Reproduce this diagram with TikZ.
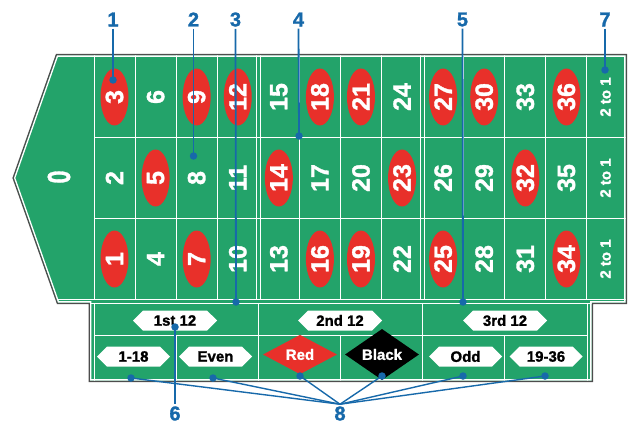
\documentclass[tikz,border=0pt]{standalone}
\usepackage{fontspec}
\setmainfont{Liberation Sans}
\newfontfamily\heavyfont{Liberation Sans Bold}[FakeBold=1.3]
\usetikzlibrary{shapes.geometric,shapes.symbols}
\definecolor{felt}{HTML}{23A36A}
\definecolor{rouge}{HTML}{E8302A}
\definecolor{callblue}{HTML}{1769AA}
\definecolor{rim}{HTML}{4D4D4D}
\begin{document}
\begin{tikzpicture}[x=1pt,y=-1pt,
  nump/.style={rotate=90, text=white, font=\fontsize{25}{25}\selectfont\heavyfont, inner sep=0pt},
  numr/.style={nump, ellipse, fill=rouge, minimum width=57pt, minimum height=28pt},
  twotoone/.style={rotate=90, text=white, font=\fontsize{15}{15}\selectfont\heavyfont, inner sep=0pt},
  gridl/.style={white, line width=1pt},
  hexl/.style={signal, signal to=west and east, fill=white, inner sep=0pt, minimum height=20pt,
     text=black, font=\fontsize{15}{15}\selectfont\heavyfont},
  diam/.style={diamond, inner sep=0pt, minimum width=74pt, minimum height=38pt, text=white,
     font=\fontsize{15}{15}\selectfont\heavyfont},
  cnum/.style={text=callblue, font=\fontsize{20}{20}\selectfont\heavyfont, inner sep=2pt},
  cdot/.style={circle, fill=callblue, inner sep=0pt, minimum size=7.5pt},
  cline/.style={callblue, line width=1.8pt},
  cline8/.style={callblue, line width=1.4pt}
]
\useasboundingbox (0,0) rectangle (631,425);

% table body
\draw[rim, line width=3pt, line join=miter] (57,55.5) -- (625.5,55.5) -- (625.5,302.5) -- (591.5,302.5) -- (591.5,380.5) -- (90,380.5) -- (90,302.5) -- (58,302.5) -- (14,178) -- cycle;
\fill[felt] (57,55.5) -- (625.5,55.5) -- (625.5,302.5) -- (591.5,302.5) -- (591.5,380.5) -- (90,380.5) -- (90,302.5) -- (58,302.5) -- (14,178) -- cycle;
\begin{scope}
  \clip (57,55.5) -- (625.5,55.5) -- (625.5,302.5) -- (591.5,302.5) -- (591.5,380.5) -- (90,380.5) -- (90,302.5) -- (58,302.5) -- (14,178) -- cycle;
  \draw[white, line width=2.6pt] (57,55.5) -- (625.5,55.5) -- (625.5,302.5) -- (591.5,302.5) -- (591.5,380.5) -- (90,380.5) -- (90,302.5) -- (58,302.5) -- (14,178) -- cycle;
  % number grid
  \foreach \k in {0,1,2,3,5,6,7,9,10,11,12}
    \draw[gridl] ({94+41.08*\k},50) -- ({94+41.08*\k},300);
  \foreach \k in {4,8}{
    \draw[gridl] ({92+41.08*\k},50) -- ({92+41.08*\k},300);
    \draw[gridl] ({96+41.08*\k},50) -- ({96+41.08*\k},300);
  }
  \draw[gridl] (94,137.5) -- (630,137.5);
  \draw[gridl] (94,218.5) -- (630,218.5);
  \draw[gridl] (50,299) -- (630,299);
  \draw[gridl] (85,303) -- (600,303);
  % outside bets
  \draw[gridl] (94,303) -- (94,385);
  \draw[gridl] (587,303) -- (587,385);
  \draw[gridl] (94,335) -- (587,335);
  \draw[gridl] (258.3,303) -- (258.3,385);
  \draw[gridl] (422.6,303) -- (422.6,385);
  \foreach \k in {2,6,10}
    \draw[gridl] ({94+41.08*\k},335) -- ({94+41.08*\k},385);
\end{scope}

% zero
\node[nump] (z0) at (59,177) {\fontsize{32}{32}\selectfont\scalebox{0.73}[1]{0}};

% numbers
\foreach \n/\c/\y/\s in {
  3/0/97/numr, 6/1/97/nump, 9/2/97/numr, 12/3/97/numr, 15/4/97/nump, 18/5/97/numr,
  21/6/97/numr, 24/7/97/nump, 27/8/97/numr, 30/9/97/numr, 33/10/97/nump, 36/11/97/numr,
  2/0/178/nump, 5/1/178/numr, 8/2/178/nump, 11/3/178/nump, 14/4/178/numr, 17/5/178/nump,
  20/6/178/nump, 23/7/178/numr, 26/8/178/nump, 29/9/178/nump, 32/10/178/numr, 35/11/178/nump,
  1/0/259/numr, 4/1/259/nump, 7/2/259/numr, 10/3/259/nump, 13/4/259/nump, 16/5/259/numr,
  19/6/259/numr, 22/7/259/nump, 25/8/259/numr, 28/9/259/nump, 31/10/259/nump, 34/11/259/numr}
  \node[\s] (n\n) at ({114.5+41.08*\c},\y) {\n};

% column bets
\node[twotoone] (col3) at (605.5,97) {2 to 1};
\node[twotoone] (col2) at (605.5,178) {2 to 1};
\node[twotoone] (col1) at (605.5,259) {2 to 1};

% dozens
\node[hexl, minimum width=84pt] (d1st) at (175,320.5) {1st 12};
\node[hexl, minimum width=84pt] (d2nd) at (340,320.5) {2nd 12};
\node[hexl, minimum width=84pt] (d3rd) at (505,320.5) {3rd 12};

% even-money bets
\node[hexl, minimum width=73pt] (low) at (133.5,356.5) {1-18};
\node[hexl, minimum width=73pt] (even) at (215.5,356.5) {Even};
\node[diam, fill=rouge] (red) at (300,354.5) {Red};
\node[diam, fill=black] (black) at (382,354.5) {Black};
\node[hexl, minimum width=73pt] (odd) at (465.5,356.5) {Odd};
\node[hexl, minimum width=73pt] (high) at (546,356.5) {19-36};

% callouts
\node[cnum] (l1) at (113,19.5) {1};
\node[cnum] (l2) at (193.5,19.5) {2};
\node[cnum] (l3) at (235.5,19.5) {3};
\node[cnum] (l4) at (298.5,19.5) {4};
\node[cnum] (l5) at (462.5,19.5) {5};
\node[cnum] (l7) at (605,19.5) {7};
\node[cnum] (l6) at (175,413.5) {6};
\node[cnum] (l8) at (340,413.5) {8};

\node[cdot] (p1) at (113,80) {};
\node[cdot] (p2) at (193.5,156) {};
\node[cdot] (p3) at (236,302) {};
\node[cdot] (p4) at (299,136) {};
\node[cdot] (p5) at (463,302) {};
\node[cdot] (p7) at (605,70) {};
\node[cdot] (p6) at (175,327) {};
\node[cdot] (q1) at (131,378) {};
\node[cdot] (q2) at (213,378) {};
\node[cdot] (q3) at (300,376) {};
\node[cdot] (q4) at (382,376) {};
\node[cdot] (q5) at (463,376) {};
\node[cdot] (q6) at (545,376) {};

\draw[cline] (l1.south) -- (p1.center);
\draw[cline] (l2.south) -- (p2.center);
\draw[cline] (l3.south) -- (p3.center);
\draw[cline] (l4.south) -- (p4.center);
\draw[cline] (l5.south) -- (p5.center);
\draw[cline] (l7.south) -- (p7.center);
\draw[cline] (p6.center) -- (l6.north);
\foreach \q in {q1,q2,q3,q4,q5,q6}
  \draw[cline8] (\q.center) -- (l8.north);
\end{tikzpicture}
\end{document}
